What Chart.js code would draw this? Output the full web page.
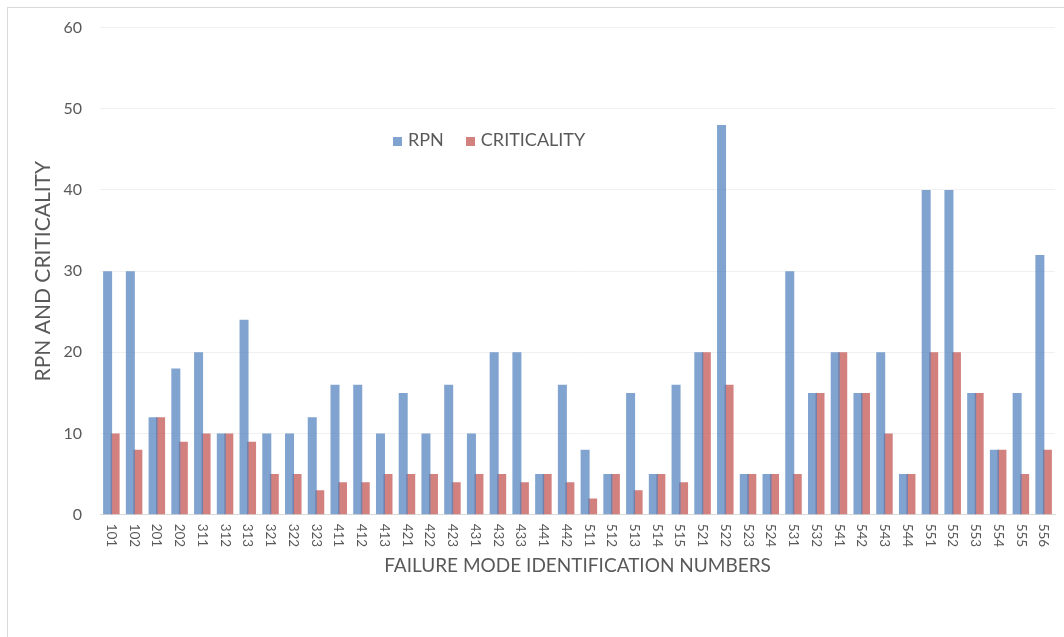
<!DOCTYPE html>
<html lang="en">
<head>
  <meta charset="UTF-8" />
  <title>RPN and Criticality</title>
  <script src="https://cdn.jsdelivr.net/npm/chart.js"></script>
  <style>
    body { margin:0; background:#fff; font-family: Lato, 'Liberation Sans', sans-serif; }
    .wrap { position:relative; width:1064px; height:637px; overflow:hidden; }
    .frame { position:absolute; left:7px; top:7px; width:1100px; height:700px; border-left:1px solid #d9d9d9; border-top:1px solid #d9d9d9; }
    canvas { position:absolute; left:0; top:0; }
    .legend { position:absolute; left:393px; top:128px; font-size:18px; color:#595959; white-space:nowrap; }
    .legend span.box { display:inline-block; width:9px; height:9px; margin-right:6px; }
    .legend span.item { margin-right:22px; }
  </style>
</head>
<body>
  <div class="wrap">
    <div class="frame"></div>
    <canvas id="chart" width="1064" height="637"></canvas>
    <div class="legend" id="legend"></div>
  </div>
  <script>
    const categories = ['101','102','201','202','311','312','313','321','322','323','411','412','413','421','422','423','431','432','433','441','442',
                        '511','512','513','514','515','521','522','523','524','531','532','541','542','543','544','551','552','553','554','555','556'];
    const rpn =         [30,30,12,18,20,10,24,10,10,12,16,16,10,15,10,16,10,20,20,5,16,
                         8,5,15,5,16,20,48,5,5,30,15,20,15,20,5,40,40,15,8,15,32];
    const criticality = [10,8,12,9,10,10,9,5,5,3,4,4,5,5,5,4,5,5,4,5,4,
                         2,5,3,5,4,20,16,5,5,5,15,20,15,10,5,20,20,15,8,5,8];
    const yTicks = [0,10,20,30,40,50,60];

    const blue = 'rgba(79,129,189,0.72)';
    const red = 'rgba(192,80,77,0.72)';
    const textColor = '#595959';

    // x labels read top-to-bottom, so draw them ourselves
    const xLabels = {
      id: 'xLabels',
      afterDraw(chart) {
        const {ctx} = chart;
        const x = chart.scales.x;
        ctx.save();
        ctx.font = '13.5px Lato';
        ctx.fillStyle = textColor;
        ctx.textAlign = 'left';
        ctx.textBaseline = 'middle';
        categories.forEach((c, i) => {
          ctx.save();
          ctx.translate(x.getPixelForTick(i), x.top + 9);
          ctx.rotate(Math.PI / 2);
          ctx.fillText(c, 0, 0);
          ctx.restore();
        });
        ctx.restore();
      }
    };

    const chart = new Chart(document.getElementById('chart'), {
      type: 'bar',
      data: {
        labels: categories,
        datasets: [
          {label:'RPN', data: rpn, backgroundColor: blue, categoryPercentage: 0.66, barPercentage: 1.2},
          {label:'CRITICALITY', data: criticality, backgroundColor: red, categoryPercentage: 0.66, barPercentage: 1.2}
        ]
      },
      options: {
        responsive: false,
        animation: false,
        layout: { padding: {left: 0, top: 27, right: 9, bottom: 56} },
        plugins: { legend: {display:false}, tooltip: {enabled:false} },
        scales: {
          x: {
            grid: { display:false, drawTicks:false },
            border: { color:'#d9d9d9' },
            ticks: { color:'transparent', font:{size:13.5, family:'Lato'}, minRotation:90, maxRotation:90, padding:1, autoSkip:false },
            title: { display:true, text:'FAILURE MODE IDENTIFICATION NUMBERS', color:textColor, font:{size:19, family:'Lato'}, padding:{top:14} }
          },
          y: {
            min: 0, max: 60,
            afterBuildTicks: s => { s.ticks = yTicks.map(v => ({value:v})); },
            afterFit: s => { s.width = 100; },
            grid: { color:'#f0f0f0', drawTicks:false },
            border: { display:false },
            ticks: { color:textColor, font:{size:16, family:'Lato'}, padding:18 },
            title: { display:true, text:'RPN AND CRITICALITY', color:textColor, font:{size:21, family:'Lato'}, padding:{top:31, bottom:0} }
          }
        }
      },
      plugins: [xLabels]
    });

    document.getElementById('legend').innerHTML = chart.data.datasets.map(d =>
      `<span class="item"><span class="box" style="background:${d.backgroundColor}"></span>${d.label}</span>`).join('');
  </script>
</body>
</html>
